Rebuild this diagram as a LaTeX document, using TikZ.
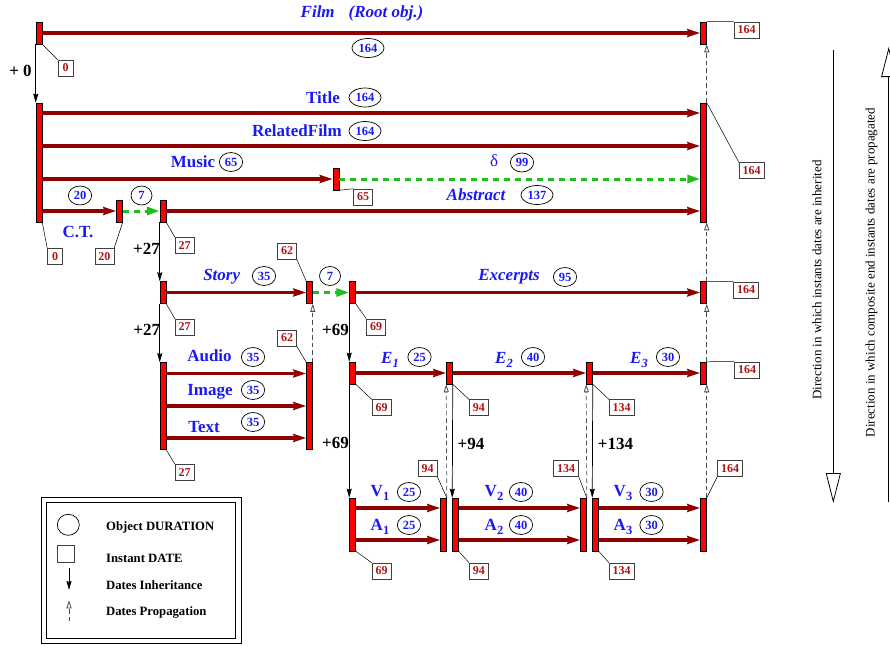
\documentclass[tikz,border=0pt]{standalone}
\usepackage{fontspec}
\setmainfont{Liberation Serif}
\usetikzlibrary{arrows.meta, shapes.geometric}

\definecolor{spanred}{RGB}{145,0,0}
\definecolor{labblue}{RGB}{25,25,245}
\definecolor{datered}{RGB}{175,20,20}
\definecolor{gapgreen}{RGB}{30,190,30}

\newcommand{\lowidx}[1]{\raisebox{-4pt}{\fontsize{12.5}{12.5}\selectfont #1}}

\begin{document}
\begin{tikzpicture}[
    x=1pt, y=-1pt,
    instbar/.style={rectangle, draw=black, line width=0.5pt, fill=red, minimum width=6pt, minimum height=22pt, inner sep=0pt},
    durov/.style={ellipse, draw=black, line width=0.7pt, inner xsep=2pt, inner ysep=1pt, minimum width=21pt, minimum height=19pt, text=labblue, font=\fontsize{12.5}{12.5}\selectfont\bfseries},
    datebox/.style={rectangle, draw=black!75, line width=0.6pt, inner xsep=3.5pt, inner ysep=0pt, minimum width=15pt, minimum height=16pt, text=datered, font=\fontsize{12}{12}\selectfont\bfseries},
    objlbl/.style={anchor=base, text=labblue, inner sep=0pt, font=\fontsize{17}{17}\selectfont\bfseries},
    objlbli/.style={objlbl, font=\fontsize{17}{17}\selectfont\bfseries\itshape},
    offlbl/.style={anchor=base, inner sep=0pt, font=\fontsize{17}{17}\selectfont\bfseries},
    lgtxt/.style={anchor=base west, inner sep=0pt, font=\fontsize{12.7}{12.7}\selectfont\bfseries},
    dirtxt/.style={rotate=90, inner sep=0pt, font=\fontsize{13}{13}\selectfont},
    spanline/.style={draw=spanred, line width=3.2pt, -{Stealth[length=13pt, width=8pt, inset=1.5pt]}},
    gapline/.style={draw=gapgreen, line width=3pt, dash pattern=on 6pt off 5pt, -{Triangle[length=13pt, width=8pt]}},
    inherit/.style={draw=black, line width=0.7pt, -{Stealth[length=9pt, width=5pt, inset=1pt]}},
    propag/.style={draw=black!70, line width=0.7pt, dash pattern=on 4.5pt off 3pt, -{Triangle[open, length=8pt, width=5pt, line width=0.8pt]}},
    leader/.style={draw=black, line width=0.5pt}
    ]
    \useasboundingbox (0,0) rectangle (890,645);

    % Film (root object)
    \node[instbar] (filmS) at (39,33) {};
    \node[instbar] (filmE) at (703.5,33) {};
    \node[objlbli] (filmL) at (362,17) {Film\hspace{14pt}(Root obj.)};
    \node[durov] (filmD) at (368,48) {164};
    \node[datebox] (filmSd) at (65.5,68) {0};
    \node[datebox] (filmEd) at (746.5,30) {164};
    \node[offlbl] (off0) at (20.5,76) {+ 0};

    % Film components
    \node[instbar, minimum height=119pt] (compS) at (39,162.5) {};
    \node[instbar, minimum height=119pt] (compE) at (703.5,162.5) {};
    \node[instbar] (musicE) at (336,179) {};
    \node[instbar] (ctE) at (119.5,211) {};
    \node[instbar] (absS) at (163,211) {};
    \coordinate (yTitle) at (0,113);
    \coordinate (yRelated) at (0,146);
    \node[objlbl] (titleL) at (323,103.3) {Title};
    \node[durov] (titleD) at (365,97.5) {164};
    \node[objlbl] (relL) at (297,136) {RelatedFilm};
    \node[durov] (relD) at (365,131) {164};
    \node[objlbl] (musicL) at (193,167.7) {Music};
    \node[durov] (musicD) at (231,162) {65};
    \node[objlbl, font=\fontsize{17}{17}\selectfont] (deltaL) at (494,166.7) {δ};
    \node[durov] (deltaD) at (522,162.5) {99};
    \node[objlbli] (absL) at (476,200) {Abstract};
    \node[durov] (absD) at (537,195) {137};
    \node[objlbl] (ctL) at (78,237.3) {C.T.};
    \node[durov] (ctD) at (80,195.5) {20};
    \node[durov] (ctgapD) at (141.5,195.5) {7};
    \node[datebox] (compSd) at (55,256.5) {0};
    \node[datebox] (ctEd) at (104.3,256.5) {20};
    \node[datebox] (absSd) at (184.7,245.5) {27};
    \node[datebox] (musicEd) at (363,197) {65};
    \node[datebox] (compEd) at (751.7,170.7) {164};
    \node[offlbl] (off27a) at (146.5,254) {+27};

    % Story / Excerpts
    \node[instbar] (storyS) at (163,292.5) {};
    \node[instbar] (storyE) at (309.5,292.5) {};
    \node[instbar] (excS) at (352.5,292.5) {};
    \node[instbar] (excE) at (703.5,292.5) {};
    \node[objlbli] (storyL) at (221.7,280.7) {Story};
    \node[durov] (storyD) at (264,276) {35};
    \node[durov] (stgapD) at (330,276) {7};
    \node[objlbli] (excL) at (509,280.7) {Excerpts};
    \node[durov] (excD) at (565,277) {95};
    \node[datebox] (storySd) at (184.7,327) {27};
    \node[datebox] (storyEd) at (287,251) {62};
    \node[datebox] (excSd) at (376,327) {69};
    \node[datebox] (excEd) at (746,290) {164};
    \node[offlbl] (off27b) at (146.7,335) {+27};
    \node[offlbl] (off69a) at (335.5,335) {+69};

    % Audio / Image / Text
    \node[instbar, minimum height=87pt] (audS) at (163,406) {};
    \node[instbar, minimum height=87pt] (audE) at (309.5,406) {};
    \coordinate (yAudio) at (0,373.5);
    \coordinate (yImage) at (0,406);
    \coordinate (yText) at (0,438);
    \node[objlbl] (audL) at (209.5,361.7) {Audio};
    \node[durov] (audD) at (253,357) {35};
    \node[objlbl] (imgL) at (210,395) {Image};
    \node[durov] (imgD) at (253,390) {35};
    \node[objlbl] (txtL) at (204,432.7) {Text};
    \node[durov] (txtD) at (253,422) {35};
    \node[datebox] (audEd) at (287,338) {62};
    \node[datebox] (audSd) at (184.7,472.5) {27};

    % Excerpts E1..E3
    \node[instbar] (e1S) at (352.5,373) {};
    \node[instbar] (e1E) at (449.5,373) {};
    \node[instbar] (e2E) at (589.5,373) {};
    \node[instbar] (e3E) at (703.5,373) {};
    \node[objlbli] (e1L) at (390,363.3) {E\lowidx{1}};
    \node[durov] (e1D) at (419.5,357) {25};
    \node[objlbli] (e2L) at (504,363.3) {E\lowidx{2}};
    \node[durov] (e2D) at (533,357) {40};
    \node[objlbli] (e3L) at (639,363.3) {E\lowidx{3}};
    \node[durov] (e3D) at (668,357) {30};
    \node[datebox] (e1Sd) at (381.5,407.7) {69};
    \node[datebox] (e1Ed) at (478.8,407.7) {94};
    \node[datebox] (e2Ed) at (621.7,407.7) {134};
    \node[datebox] (e3Ed) at (747,370) {164};
    \node[offlbl] (off69b) at (335.5,448.3) {+69};
    \node[offlbl] (off94) at (471,449) {+94};
    \node[offlbl] (off134) at (615.5,449) {+134};

    % Video / Audio tracks
    \node[instbar, minimum height=53pt] (v1S) at (352.5,524.5) {};
    \node[instbar, minimum height=53pt] (v1E) at (443.5,524.5) {};
    \node[instbar, minimum height=53pt] (v2S) at (455.5,524.5) {};
    \node[instbar, minimum height=53pt] (v2E) at (583.5,524.5) {};
    \node[instbar, minimum height=53pt] (v3S) at (595.5,524.5) {};
    \node[instbar, minimum height=53pt] (v3E) at (703.5,524.5) {};
    \coordinate (yV) at (0,508);
    \coordinate (yA) at (0,540);
    \node[objlbl] (v1L) at (380,496.7) {V\lowidx{1}};
    \node[objlbl] (a1L) at (380,530) {A\lowidx{1}};
    \node[objlbl] (v2L) at (494,496.7) {V\lowidx{2}};
    \node[objlbl] (a2L) at (494,530) {A\lowidx{2}};
    \node[objlbl] (v3L) at (623,496.7) {V\lowidx{3}};
    \node[objlbl] (a3L) at (623,530) {A\lowidx{3}};
    \node[durov] (v1D) at (409,492) {25};
    \node[durov] (a1D) at (409,525) {25};
    \node[durov] (v2D) at (521,492) {40};
    \node[durov] (a2D) at (521,525) {40};
    \node[durov] (v3D) at (651.5,492) {30};
    \node[durov] (a3D) at (651.5,525) {30};
    \node[datebox] (v1Ed) at (427.5,468.3) {94};
    \node[datebox] (v2Ed) at (566,468.5) {134};
    \node[datebox] (v3Ed) at (730,468.5) {164};
    \node[datebox] (v1Sd) at (381.5,571) {69};
    \node[datebox] (v2Sd) at (478.8,571) {94};
    \node[datebox] (v3Sd) at (621.7,571) {134};

    % Spans
    \draw[spanline] (filmS.east) -- (filmE.west);
    \draw[spanline] (compS.east |- yTitle) -- (compE.west |- yTitle);
    \draw[spanline] (compS.east |- yRelated) -- (compE.west |- yRelated);
    \draw[spanline] (compS.east |- musicE.west) -- (musicE.west);
    \draw[spanline] (compS.east |- ctE.west) -- (ctE.west);
    \draw[spanline] (absS.east) -- (compE.west |- absS.east);
    \draw[spanline] (storyS.east) -- (storyE.west);
    \draw[spanline] (excS.east) -- (excE.west);
    \foreach \row in {yAudio, yImage, yText}
        \draw[spanline] (audS.east |- \row) -- (audE.west |- \row);
    \draw[spanline] (e1S.east) -- (e1E.west);
    \draw[spanline] (e1E.east) -- (e2E.west);
    \draw[spanline] (e2E.east) -- (e3E.west);
    \foreach \a/\b in {v1S/v1E, v2S/v2E, v3S/v3E}
        \foreach \row in {yV, yA}
            \draw[spanline] (\a.east |- \row) -- (\b.west |- \row);

    % Gaps
    \draw[gapline] (musicE.east) -- (compE.west |- musicE.east);
    \draw[gapline] (ctE.east) -- (absS.west);
    \draw[gapline] (storyE.east) -- (excS.west);

    % Dates inheritance
    \draw[inherit] (filmS.south west) -- (compS.north west);
    \draw[inherit] (absS.south west) -- (storyS.north west);
    \draw[inherit] (storyS.south west) -- (audS.north west);
    \draw[inherit] (excS.south west) -- (e1S.north west);
    \draw[inherit] (e1S.south west) -- (v1S.north west);
    \draw[inherit] (e1E.south east) -- (v2S.north west);
    \draw[inherit] (e2E.south east) -- (v3S.north west);

    % Dates propagation
    \draw[propag] (audE.north east) -- (storyE.south east);
    \draw[propag] (v1E.north east) -- (e1E.south west);
    \draw[propag] (v2E.north east) -- (e2E.south west);
    \draw[propag] (v3E.north east) -- (e3E.south east);
    \draw[propag] (e3E.north east) -- (excE.south east);
    \draw[propag] (excE.north east) -- (compE.south east);
    \draw[propag] (compE.north east) -- (filmE.south east);

    % Date leaders
    \draw[leader] (filmS.south east) -- (filmSd.north west);
    \draw[leader] (filmE.north east) -- (filmEd.north west);
    \draw[leader] (compS.south east) -- (compSd.north west);
    \draw[leader] (ctE.south east) -- (ctEd.north east);
    \draw[leader] (absS.south east) -- (absSd.north west);
    \draw[leader] (musicE.south east) -- (musicEd.north west);
    \draw[leader] (compE.north east) -- (compEd.north west);
    \draw[leader] (storyS.south east) -- (storySd.north west);
    \draw[leader] (storyE.north west) -- (storyEd.south east);
    \draw[leader] (excS.south east) -- (excSd.north west);
    \draw[leader] (excE.north east) -- (excEd.north west);
    \draw[leader] (audE.north west) -- (audEd.south east);
    \draw[leader] (audS.south east) -- (audSd.north west);
    \draw[leader] (e1S.south east) -- (e1Sd.north west);
    \draw[leader] (e1E.south east) -- (e1Ed.north west);
    \draw[leader] (e2E.south east) -- (e2Ed.north west);
    \draw[leader] (e3E.north east) -- (e3Ed.north west);
    \draw[leader] (v1E.north east) -- (v1Ed.south east);
    \draw[leader] (v2E.north east) -- (v2Ed.south east);
    \draw[leader] (v3E.north east) -- (v3Ed.south west);
    \draw[leader] (v1S.south east) -- (v1Sd.north west);
    \draw[leader] (v2S.south east) -- (v2Sd.north west);
    \draw[leader] (v3S.south east) -- (v3Sd.north west);

    % Legend
    \draw[line width=0.8pt] (41,497) rectangle (241,643);
    \draw[line width=0.8pt] (46.5,502.7) rectangle (235.7,638);
    \node[ellipse, draw, line width=0.7pt, minimum width=22pt, minimum height=21pt, inner sep=0pt] (lgDur) at (68.3,524.8) {};
    \node[rectangle, draw=black!75, line width=0.7pt, minimum width=17pt, minimum height=17pt, inner sep=0pt] (lgDate) at (65.7,554) {};
    \coordinate (lgInhA) at (69,568);
    \coordinate (lgInhB) at (69,590);
    \coordinate (lgPropA) at (69,621.3);
    \coordinate (lgPropB) at (69,600.3);
    \draw[inherit] (lgInhA) -- (lgInhB);
    \draw[propag] (lgPropA) -- (lgPropB);
    \node[lgtxt] (lgDurT) at (106,530.3) {Object DURATION};
    \node[lgtxt] (lgDateT) at (106,562.7) {Instant DATE};
    \node[lgtxt] (lgInhT) at (106,589.7) {Dates Inheritance};
    \node[lgtxt] (lgPropT) at (106,615.5) {Dates Propagation};

    % Directions
    \coordinate (dirInA) at (833.3,50);
    \coordinate (dirInB) at (833.3,503);
    \coordinate (dirPrA) at (888.7,502);
    \coordinate (dirPrB) at (888.7,47);
    \draw[line width=0.8pt, -{Triangle[open, length=30pt, width=15pt]}] (dirInA) -- (dirInB);
    \draw[line width=0.8pt, -{Triangle[open, length=30pt, width=15pt]}] (dirPrA) -- (dirPrB);
    \node[dirtxt] (dirInT) at (817,280) {Direction in which instants dates are inherited};
    \node[dirtxt] (dirPrT) at (871.5,272.5) {Direction in which composite end instants dates are propagated};
\end{tikzpicture}
\end{document}
